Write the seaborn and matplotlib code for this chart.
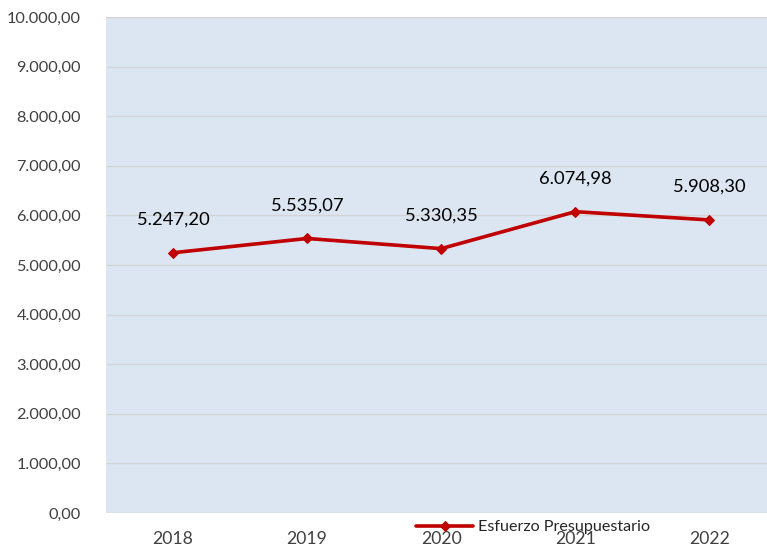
import matplotlib
matplotlib.use("Agg")
import matplotlib.pyplot as plt
import matplotlib.ticker as mticker
import pandas as pd
import seaborn as sns

years = ["2018", "2019", "2020", "2021", "2022"]
values = [5247.20, 5535.07, 5330.35, 6074.98, 5908.30]
series_name = "Esfuerzo Presupuestario"

sns.set_theme(style="white")
plt.rcParams["font.family"] = ["Lato", "DejaVu Sans"]


def es_format(v, pos=None):
    s = f"{v:,.2f}"
    return s.replace(",", "X").replace(".", ",").replace("X", ".")


df = pd.DataFrame({"year": years, "value": values})
df["x"] = range(len(years))

fig = plt.figure(figsize=(7.67, 5.49), dpi=100)
ax = fig.add_axes([106 / 767, 1 - 513 / 549, (767 - 106) / 767, (513 - 17) / 549])
ax.set_facecolor("#DCE6F2")

sns.lineplot(
    data=df, x="x", y="value", ax=ax, color="#C00000", linewidth=2.6,
    marker="D", markersize=5, markeredgecolor="#C00000", label=series_name,
)

# data labels above each point
for xi, v in zip(df["x"], df["value"]):
    ax.annotate(es_format(v), (xi, v), xytext=(0, 18), textcoords="offset points",
                ha="center", va="bottom", fontsize=13.2, color="#000000")

ax.set_ylim(0, 10000)
ax.set_xlim(-0.5, 4.43)
ax.yaxis.set_major_locator(mticker.MultipleLocator(1000))
ax.yaxis.set_major_formatter(mticker.FuncFormatter(es_format))
ax.set_xticks(df["x"])
ax.set_xticklabels(years)
ax.grid(axis="y", color="#D4D4D4", linewidth=1)
ax.set_axisbelow(True)
for side in ["top", "right", "left", "bottom"]:
    ax.spines[side].set_visible(False)
ax.tick_params(axis="y", length=0, labelsize=11.7, labelcolor="#404040", pad=18)
ax.tick_params(axis="x", length=0, labelsize=12.7, labelcolor="#404040", pad=13)
ax.set_xlabel("")
ax.set_ylabel("")

# legend sits at the bottom, overlapping the year labels as in the original
leg = ax.legend(loc="center", frameon=False, fontsize=11.6,
                handlelength=3.5, handletextpad=0.3, borderpad=0)
leg.set_bbox_to_anchor((533 / 767, 1 - 527 / 549), transform=fig.transFigure)

fig.savefig("out.png", dpi=100)
